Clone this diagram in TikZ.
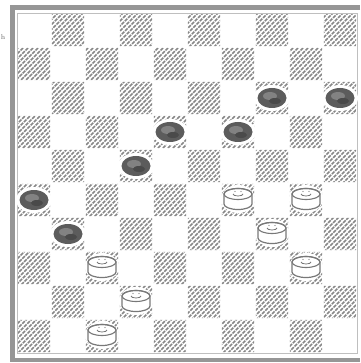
\documentclass[tikz,border=0pt]{standalone}
\definecolor{hatch}{RGB}{135,135,135}
\definecolor{framec}{RGB}{150,150,150}
\definecolor{blackpc}{RGB}{92,92,92}
\definecolor{blackhl}{RGB}{130,130,130}
\definecolor{pcline}{RGB}{120,120,120}
\begin{document}
\begin{tikzpicture}[x=1pt,y=-1pt,
  hatchline/.style={draw=hatch,line width=1.45pt,dash pattern=on 3.6pt off 1pt},
  framestyle/.style={draw=framec,line width=4.8pt},
  innerline/.style={draw=black!25,line width=0.5pt},
  wpc/.pic={
    \fill[white] (0,0) ellipse[x radius=17,y radius=14];
    \path[fill=white,draw=pcline,line width=1.2pt] (-14,-5) -- (-14,5)
      arc[start angle=180,end angle=0,x radius=14,y radius=5.5] -- (14,-5)
      arc[start angle=0,end angle=-180,x radius=14,y radius=5.5] -- cycle;
    \draw[pcline,line width=1.1pt] (0,-5) ellipse[x radius=14,y radius=5.5];
    \draw[pcline,line width=0.8pt] (-5,-5) arc[start angle=180,end angle=0,x radius=5,y radius=2];
    \fill[pcline] (-3,-7.5) circle[radius=0.7] (3,-7.5) circle[radius=0.7];
  },
  bpc/.pic={
    \fill[white] (0,0) ellipse[x radius=18,y radius=13];
    \fill[blackpc] (0,0) ellipse[x radius=14.5,y radius=10];
    \fill[blackhl] (-2,-2) ellipse[x radius=7,y radius=4];
    \fill[blackpc!80!black] (3,3) ellipse[x radius=6,y radius=3];
  }]
\useasboundingbox (0,0) rectangle (360,363);
\fill[white] (0,0) rectangle (360,363);
% hatched dark squares
\begin{scope}
  \clip \foreach \r [evaluate=\r as \s using {int(mod(\r+1,2))}] in {0,...,9} {
      \foreach \k in {0,...,4} { ({17+34*(2*\k+\s)+0.8},{13+34*\r+0.8}) rectangle ++(32.4,32.4) }
    };
  \foreach \i in {-375,-370,...,365} \draw[hatchline] (\i,366) -- ++(368,-368);
\end{scope}
% thin inner board edge
\draw[innerline] (17,13) rectangle (357,353);
% frame
\draw[framestyle] (360,7.5) -- (12.5,7.5) -- (12.5,360) -- (360,360);
% black pieces
\foreach \c/\r in {7/2,9/2,4/3,6/3,3/4,0/5,1/6}
  \pic at ({34+34*\c},{30+34*\r}) {bpc};
% white pieces
\foreach \c/\r in {6/5,8/5,7/6,2/7,8/7,3/8,2/9}
  \pic at ({34+34*\c},{29+34*\r}) {wpc};
\node[text=black!60,font=\fontsize{7}{7}\selectfont,inner sep=0pt] (lbl) at (3,37) {h};
\end{tikzpicture}
\end{document}
